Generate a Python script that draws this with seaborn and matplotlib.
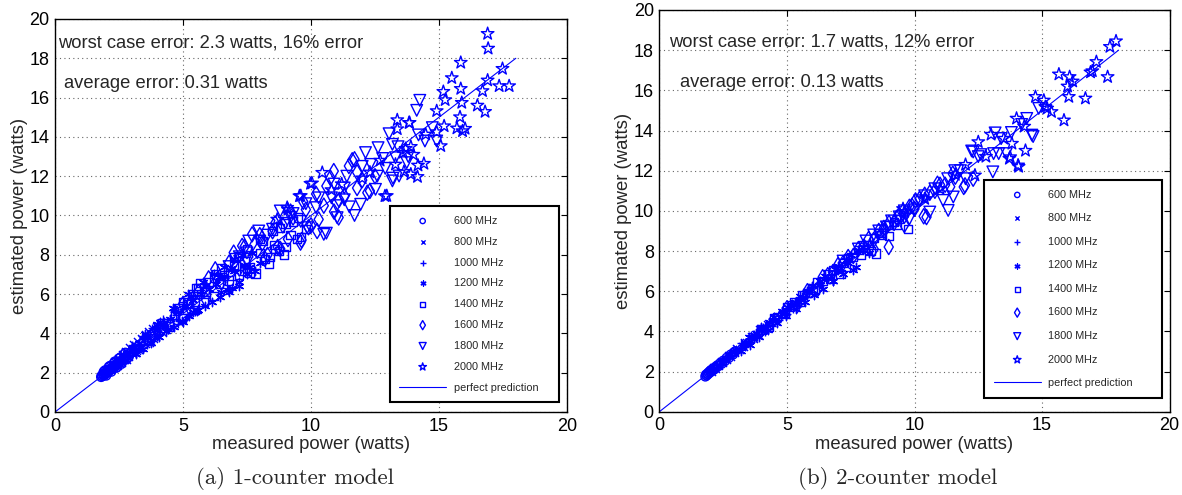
import matplotlib
matplotlib.use('Agg')
import matplotlib.pyplot as plt
import seaborn as sns

# frequency labels (one series per CPU frequency)
freqs = ['600 MHz', '800 MHz', '1000 MHz', '1200 MHz', '1400 MHz', '1600 MHz', '1800 MHz', '2000 MHz']

# ---- (a) 1-counter model: measured vs estimated power (watts) ----
a600_x = [1.80, 1.82, 1.85, 1.88, 1.90, 1.93, 1.95, 1.98, 2.00, 2.03, 2.05, 2.08, 2.10, 2.14, 2.18, 2.22, 2.26, 2.30, 2.35, 2.40, 2.46, 2.52, 2.58, 2.65, 2.72, 2.80, 2.88, 2.95,
          1.90, 2.10, 2.30, 2.50, 2.70, 2.00, 2.20, 2.40, 2.60, 2.80, 3.00, 3.10, 1.95, 2.15, 2.35, 2.55, 2.75]
a600_y = [1.78, 1.85, 1.82, 1.92, 1.86, 1.97, 1.90, 2.02, 1.96, 2.08, 2.00, 2.13, 2.06, 2.18, 2.15, 2.26, 2.22, 2.34, 2.31, 2.45, 2.42, 2.57, 2.52, 2.70, 2.66, 2.85, 2.80, 2.98,
          2.05, 2.30, 2.50, 2.72, 2.95, 1.85, 2.05, 2.25, 2.45, 2.68, 3.05, 3.20, 2.12, 2.35, 2.58, 2.78, 3.02]
a800_x = [2.00, 2.05, 2.12, 2.18, 2.25, 2.32, 2.38, 2.45, 2.52, 2.60, 2.68, 2.75, 2.83, 2.90, 2.98, 3.05, 3.12, 3.20, 3.28, 3.36, 3.45, 3.55, 3.65, 3.75, 3.85, 3.95, 4.05,
          2.30, 2.60, 2.90, 3.20, 3.50, 3.80, 4.10, 2.40, 2.80, 3.30, 3.70, 4.20,
          2.15, 2.45, 2.75, 3.05, 3.35, 3.65, 3.95, 2.55, 3.15, 3.85]
a800_y = [2.10, 1.98, 2.25, 2.12, 2.38, 2.22, 2.50, 2.36, 2.66, 2.50, 2.80, 2.66, 2.96, 2.82, 3.12, 2.95, 3.30, 3.10, 3.45, 3.25, 3.62, 3.45, 3.82, 3.62, 4.02, 3.80, 4.18,
          2.60, 2.95, 3.30, 3.60, 3.95, 4.30, 4.55, 2.30, 2.65, 3.15, 3.50, 4.00,
          2.35, 2.75, 3.10, 3.45, 3.75, 4.10, 4.40, 2.45, 3.00, 3.70]
a1000_x = [2.50, 2.60, 2.70, 2.80, 2.90, 3.00, 3.10, 3.20, 3.30, 3.40, 3.50, 3.60, 3.72, 3.85, 3.98, 4.10, 4.22, 4.35, 4.48, 4.60, 4.72, 4.85, 5.00, 5.15, 5.30, 5.45,
           3.00, 3.40, 3.80, 4.20, 4.60, 5.00, 5.40, 5.70, 3.60, 4.00, 4.40, 4.80, 5.20, 5.60,
           2.65, 3.05, 3.45, 3.85, 4.25, 4.65, 5.05, 5.45, 3.25, 4.05, 4.85]
a1000_y = [2.62, 2.55, 2.85, 2.72, 3.05, 2.88, 3.28, 3.05, 3.48, 3.25, 3.70, 3.45, 3.95, 3.70, 4.20, 3.95, 4.45, 4.18, 4.72, 4.40, 4.95, 4.62, 5.25, 4.85, 5.52, 5.10,
           3.40, 3.85, 4.30, 4.75, 5.20, 5.60, 5.95, 6.20, 3.40, 3.80, 4.15, 4.50, 4.90, 5.30,
           2.95, 3.35, 3.80, 4.25, 4.65, 5.10, 5.50, 5.80, 3.15, 3.90, 4.70]
a1200_x = [3.00, 3.15, 3.30, 3.45, 3.60, 3.75, 3.90, 4.05, 4.20, 4.35, 4.50, 4.65, 4.80, 4.95, 5.10, 5.25, 5.40, 5.55, 5.70, 5.85, 6.00, 6.15, 6.30, 6.45, 6.60, 6.74, 6.80, 7.00, 7.20, 7.40,
           4.00, 4.60, 5.20, 5.80, 6.20, 6.60, 7.00, 7.30, 7.60, 7.80, 6.90, 5.60, 5.00, 7.20, 7.50, 8.00,
           3.50, 4.10, 4.70, 5.30, 5.90, 6.40, 6.90, 7.70, 4.40, 5.40, 6.50]
a1200_y = [3.20, 2.95, 3.50, 3.20, 3.85, 3.50, 4.15, 3.80, 4.45, 4.10, 4.75, 4.35, 5.10, 4.65, 5.40, 4.90, 5.70, 5.15, 6.00, 5.40, 6.25, 5.60, 6.50, 5.85, 6.90, 6.20, 6.10, 7.20, 6.40, 7.50,
           4.50, 5.30, 6.00, 6.60, 7.00, 7.40, 7.80, 8.00, 7.40, 7.20, 6.30, 5.20, 4.60, 6.60, 7.00, 7.60,
           3.95, 4.60, 5.25, 5.85, 6.45, 6.85, 7.35, 8.10, 4.20, 5.10, 6.10]
a1400_x = [4.20, 4.45, 4.70, 4.95, 5.20, 5.45, 5.52, 5.68, 5.90, 6.20, 6.40, 6.60, 6.80, 7.00, 7.20, 7.40, 7.60, 7.83, 8.00, 8.20, 8.35, 8.55, 8.75, 8.94, 9.20, 9.45,
           5.00, 5.60, 6.00, 6.50, 7.00, 7.50, 8.00, 8.50, 9.00, 9.50, 9.80, 6.20, 6.90, 7.60, 8.40, 9.00, 9.60,
           4.80, 5.40, 6.30, 7.20, 8.10, 8.80, 9.30, 5.80, 7.40, 8.60]
a1400_y = [4.50, 4.35, 4.95, 4.75, 5.50, 5.20, 6.30, 6.58, 6.10, 6.83, 6.50, 6.95, 6.70, 7.40, 7.00, 7.70, 7.35, 7.04, 8.10, 7.80, 7.55, 8.50, 8.20, 8.02, 9.00, 8.80,
           5.60, 6.30, 6.60, 7.30, 7.90, 8.30, 8.80, 9.20, 9.60, 9.90, 9.30, 5.90, 6.50, 7.10, 7.90, 8.40, 8.90,
           5.30, 6.00, 7.00, 7.95, 8.70, 9.35, 9.70, 5.60, 7.20, 8.30]
a1600_x = [5.00, 5.30, 5.60, 5.90, 6.26, 6.50, 6.98, 7.20, 7.31, 7.50, 7.70, 7.90, 8.10, 8.30, 8.50, 8.70, 8.90, 9.10, 9.30, 9.59, 9.63, 9.80, 10.00, 10.24, 10.50, 10.76, 10.89, 11.08, 11.10, 11.48, 11.61, 11.70, 12.20, 12.00, 11.80, 12.30,
           6.00, 6.80, 7.40, 8.00, 8.60, 9.20, 9.70, 10.20, 10.60, 10.90, 10.30, 9.90, 8.80, 8.20, 11.30, 11.80, 12.50]
a1600_y = [5.50, 5.20, 6.10, 5.70, 7.26, 6.60, 8.11, 7.30, 8.45, 7.80, 9.04, 8.20, 8.60, 8.00, 9.20, 8.40, 9.50, 8.80, 9.90, 8.62, 8.75, 10.30, 9.50, 9.21, 10.50, 11.92, 12.26, 9.90, 10.80, 12.52, 12.81, 12.86, 11.16, 11.80, 11.40, 11.25,
           6.80, 7.60, 8.40, 9.00, 9.60, 10.20, 10.70, 11.10, 11.50, 10.20, 9.80, 9.40, 8.30, 7.80, 11.00, 12.20, 12.00]
a1800_x = [6.80, 7.20, 7.57, 7.96, 8.30, 8.80, 9.00, 9.30, 9.60, 9.85, 10.20, 10.50, 10.60, 10.80, 11.02, 11.30, 11.50, 11.70, 11.94, 12.13, 12.33, 12.52, 12.59, 12.62, 12.90, 13.05, 13.18, 13.18, 13.20, 13.30, 13.44, 13.74, 14.13, 14.25, 14.45, 14.74, 14.91,
           7.50, 8.00, 8.50, 9.20, 9.80, 10.30, 10.90, 11.40, 12.00, 11.00, 11.30, 12.80, 13.40, 13.80, 14.20]
a1800_y = [7.40, 7.90, 8.70, 9.21, 9.00, 10.23, 9.60, 10.10, 9.70, 9.38, 10.40, 9.04, 9.10, 10.90, 9.89, 11.40, 10.44, 10.00, 10.57, 13.20, 12.60, 11.33, 12.00, 13.45, 12.40, 14.16, 13.62, 11.76, 11.90, 12.94, 12.01, 12.69, 15.35, 15.86, 13.79, 14.47, 13.79,
           8.10, 8.70, 9.30, 9.90, 10.60, 10.90, 11.60, 12.00, 12.50, 10.50, 10.80, 12.90, 13.50, 13.00, 14.10]
a2000_x = [8.68, 9.07, 9.10, 9.55, 9.60, 9.98, 10.04, 10.44, 10.80, 11.20, 12.00, 12.30, 12.70, 12.89, 12.96, 13.30, 13.37, 13.37, 13.60, 13.63, 13.70, 13.83, 13.85, 13.90, 13.90, 14.00, 14.16, 14.18, 14.41, 14.48, 14.91, 14.91, 15.07, 15.17, 15.20, 15.24, 15.50, 15.70, 15.82, 15.85, 15.85, 15.89, 15.92, 16.02, 16.50, 16.70, 16.80, 16.90, 16.90, 16.92, 17.35, 17.48, 17.74]
a2000_y = [9.80, 10.40, 10.30, 10.99, 11.00, 11.62, 11.64, 12.18, 11.30, 11.60, 11.90, 12.20, 12.80, 10.99, 11.00, 12.60, 14.86, 14.40, 13.20, 12.23, 13.40, 14.72, 14.72, 12.10, 13.50, 13.10, 11.97, 12.55, 12.64, 14.13, 15.32, 14.25, 13.54, 16.30, 14.55, 15.88, 17.00, 14.44, 15.01, 17.78, 16.45, 15.74, 14.30, 14.42, 15.60, 16.34, 15.28, 19.25, 16.88, 18.50, 16.59, 17.47, 16.59]

# ---- (b) 2-counter model ----
b600_x = [1.80, 1.82, 1.85, 1.88, 1.90, 1.93, 1.95, 1.98, 2.00, 2.03, 2.06, 2.10, 2.14, 2.18, 2.22, 2.27, 2.32, 2.38, 2.44, 2.50, 2.57, 2.64, 2.72, 2.80, 2.88, 2.96]
b600_y = [1.75, 1.84, 1.80, 1.90, 1.86, 1.96, 1.92, 2.02, 1.97, 2.08, 2.02, 2.14, 2.09, 2.22, 2.18, 2.31, 2.27, 2.42, 2.38, 2.54, 2.52, 2.69, 2.67, 2.85, 2.84, 3.00]
b800_x = [2.00, 2.07, 2.14, 2.21, 2.28, 2.35, 2.42, 2.50, 2.58, 2.66, 2.74, 2.82, 2.90, 2.98, 3.06, 3.14, 3.22, 3.30, 3.40, 3.50, 3.60, 3.70, 3.80, 3.90, 4.00, 4.12,
          2.10, 2.40, 2.70, 3.00, 3.30, 3.60, 3.90, 4.20]
b800_y = [2.06, 1.98, 2.20, 2.12, 2.34, 2.27, 2.48, 2.42, 2.64, 2.58, 2.80, 2.74, 2.96, 2.90, 3.12, 3.06, 3.28, 3.22, 3.46, 3.40, 3.66, 3.60, 3.86, 3.80, 4.06, 4.05,
          2.22, 2.52, 2.84, 3.16, 3.46, 3.78, 4.10, 4.38]
b1000_x = [2.50, 2.62, 2.74, 2.86, 2.98, 3.10, 3.22, 3.34, 3.46, 3.58, 3.70, 3.84, 3.98, 4.12, 4.26, 4.40, 4.54, 4.68, 4.82, 4.96, 5.10, 5.25, 5.40, 5.55,
           2.80, 3.20, 3.60, 4.00, 4.40, 4.80, 5.20, 5.60, 5.90,
           3.00, 3.40, 3.80, 4.20, 4.60, 5.00, 5.40, 5.80]
b1000_y = [2.58, 2.52, 2.82, 2.76, 3.06, 2.98, 3.30, 3.22, 3.54, 3.46, 3.78, 3.72, 4.06, 3.98, 4.34, 4.28, 4.62, 4.56, 4.90, 4.82, 5.20, 5.12, 5.48, 5.42,
           2.95, 3.40, 3.80, 4.20, 4.60, 5.00, 5.40, 5.75, 6.05,
           2.90, 3.28, 3.68, 4.08, 4.48, 4.88, 5.30, 5.70]
b1200_x = [3.00, 3.18, 3.36, 3.54, 3.72, 3.90, 4.08, 4.26, 4.44, 4.62, 4.80, 4.98, 5.16, 5.34, 5.52, 5.70, 5.88, 6.06, 6.24, 6.42, 6.60, 6.80, 7.00, 7.20, 7.40, 7.60, 7.69,
           3.50, 4.00, 4.50, 5.00, 5.50, 6.00, 6.50, 7.00, 7.50, 8.00, 8.20, 6.80,
           3.80, 4.30, 4.80, 5.30, 5.80, 6.30, 6.90, 7.30, 7.80]
b1200_y = [3.08, 3.00, 3.44, 3.32, 3.80, 3.70, 4.16, 4.05, 4.52, 4.42, 4.88, 4.76, 5.25, 5.10, 5.60, 5.45, 5.96, 5.80, 6.32, 6.12, 6.66, 6.50, 7.05, 6.85, 7.40, 7.05, 7.20,
           3.70, 4.20, 4.70, 5.20, 5.75, 6.25, 6.75, 7.25, 7.80, 8.20, 7.90, 6.50,
           3.90, 4.48, 5.00, 5.48, 6.00, 6.50, 7.12, 7.55, 8.05]
b1400_x = [4.00, 4.30, 4.60, 4.90, 5.20, 5.50, 5.80, 6.10, 6.40, 6.70, 7.00, 7.30, 7.60, 7.90, 8.20, 8.49, 8.70, 9.00, 9.30, 9.74,
           5.00, 5.60, 6.20, 6.80, 7.40, 8.00, 8.60, 9.00, 9.40, 8.30, 7.10,
           4.50, 5.30, 6.00, 6.60, 7.20, 7.80, 8.40, 9.20]
b1400_y = [4.10, 4.25, 4.72, 4.85, 5.30, 5.45, 5.92, 6.05, 6.50, 6.62, 7.10, 7.20, 7.70, 7.80, 8.30, 7.87, 8.80, 8.75, 9.30, 9.11,
           5.20, 5.80, 6.45, 7.05, 7.65, 8.30, 8.90, 9.30, 9.60, 8.00, 6.85,
           4.65, 5.45, 6.15, 6.85, 7.40, 8.05, 8.65, 9.45]
b1600_x = [5.00, 5.40, 5.80, 6.20, 6.60, 6.80, 7.20, 7.60, 8.00, 8.40, 8.80, 8.99, 9.20, 9.60, 9.80, 10.00, 10.04, 10.36, 10.47, 10.80, 11.20, 11.60, 11.93, 11.98, 12.30,
           6.40, 7.00, 7.40, 7.80, 8.20, 8.60, 9.00, 9.40, 10.20, 10.60, 11.00, 11.40, 9.60, 8.40,
           8.80, 9.30, 9.90, 10.40, 10.90, 11.50]
b1600_y = [5.15, 5.30, 6.00, 6.10, 6.80, 6.95, 7.40, 7.75, 8.20, 8.55, 9.00, 8.20, 9.40, 9.75, 10.20, 10.10, 10.52, 9.73, 9.69, 11.00, 11.30, 11.70, 11.19, 11.27, 11.60,
           6.70, 7.30, 7.70, 8.10, 8.60, 9.00, 9.40, 9.80, 10.60, 10.90, 11.30, 11.20, 9.30, 8.10,
           9.15, 9.65, 10.25, 10.80, 11.35, 11.85]
b1800_x = [7.20, 7.80, 8.40, 8.90, 9.40, 9.80, 10.00, 10.40, 10.60, 11.12, 11.32, 11.52, 11.58, 12.00, 12.24, 12.30, 12.50, 13.07, 13.10, 13.16, 13.30, 13.60, 14.40, 14.60, 14.65, 14.87,
           8.10, 8.60, 9.10, 9.60, 10.20, 10.80, 11.30, 11.80, 12.60, 13.40, 13.80, 14.20]
b1800_y = [7.50, 8.10, 8.80, 9.20, 9.70, 9.60, 10.05, 10.75, 9.94, 10.52, 10.02, 10.69, 12.00, 11.60, 12.98, 12.93, 12.70, 11.94, 12.85, 13.88, 12.85, 12.85, 14.60, 13.77, 13.70, 15.10,
           8.50, 9.00, 9.50, 10.00, 10.50, 11.10, 11.60, 12.00, 12.80, 13.60, 13.90, 14.30]
b2000_x = [9.55, 9.60, 10.40, 11.00, 11.60, 12.00, 12.37, 12.50, 12.80, 13.00, 13.50, 13.72, 13.75, 13.82, 14.00, 14.06, 14.08, 14.30, 14.35, 14.74, 15.07, 15.13, 15.20, 15.37, 15.66, 15.86, 16.00, 16.05, 16.08, 16.20, 16.70, 16.90, 16.97, 17.13, 17.57, 17.66, 17.90]
b2000_y = [10.10, 9.95, 10.60, 11.10, 11.80, 12.30, 11.77, 13.43, 12.70, 13.80, 13.60, 12.60, 12.68, 13.35, 14.60, 12.27, 12.20, 14.20, 13.00, 15.68, 15.50, 15.18, 15.10, 14.93, 16.80, 14.51, 16.20, 15.68, 16.67, 16.45, 15.60, 16.90, 16.96, 17.42, 16.67, 18.17, 18.45]

panel_a = [(a600_x, a600_y), (a800_x, a800_y), (a1000_x, a1000_y), (a1200_x, a1200_y),
           (a1400_x, a1400_y), (a1600_x, a1600_y), (a1800_x, a1800_y), (a2000_x, a2000_y)]
panel_b = [(b600_x, b600_y), (b800_x, b800_y), (b1000_x, b1000_y), (b1200_x, b1200_y),
           (b1400_x, b1400_y), (b1600_x, b1600_y), (b1800_x, b1800_y), (b2000_x, b2000_y)]

perfect = [0, 18]

# marker style per frequency: (marker, size, hollow?)
styles = [('o', 40, True), ('x', 26, False), ('+', 40, False), ((6, 2, 0), 36, False),
          ('s', 36, True), ('d', 60, True), ('v', 70, True), ('*', 90, True)]

sns.set_style('white')
plt.rcParams['font.family'] = ['Liberation Sans', 'DejaVu Sans']

blue = (0, 0, 1)
fig = plt.figure(figsize=(11.82, 4.95), dpi=100)
ax1 = fig.add_axes([0.04653, 0.16768, 0.43316, 0.79394])
ax2 = fig.add_axes([0.55787, 0.16828, 0.43164, 0.81152])


def draw(ax, panel, worst, avg, wpos, apos, leg_box, spacing):
    for (xs, ys), lab, (mk, sz, hollow) in zip(panel, freqs, styles):
        if hollow:
            sns.scatterplot(x=xs, y=ys, ax=ax, marker=mk, s=sz, facecolors='none',
                            edgecolors=blue, linewidths=1.0, label=lab)
        else:
            sns.scatterplot(x=xs, y=ys, ax=ax, marker=mk, s=sz, color=blue,
                            linewidths=1.0, label=lab)
    sns.lineplot(x=perfect, y=perfect, ax=ax, color=blue, linewidth=0.8,
                 label='perfect prediction')
    ax.set_xlim(0, 20)
    ax.set_ylim(0, 20)
    ax.set_xticks([0, 5, 10, 15, 20])
    ax.set_yticks(range(0, 21, 2))
    ax.grid(True, linestyle=(0, (1, 3)), color='0.4', linewidth=0.8)
    ax.tick_params(direction='in', length=4, top=True, right=True, labelsize=13,
                   colors='black', pad=4)
    for sp in ax.spines.values():
        sp.set_color('black')
        sp.set_linewidth(1.0)
    ax.set_xlabel('measured power (watts)', fontsize=13.3, labelpad=1)
    ax.set_ylabel('estimated power (watts)', fontsize=13.3, labelpad=1)
    ax.text(wpos[0], wpos[1], worst, fontsize=13.2, va='center')
    ax.text(apos[0], apos[1], avg, fontsize=13.2, va='center')
    h, l = ax.get_legend_handles_labels()
    leg = ax.legend(h, l, loc='lower left', bbox_to_anchor=leg_box, mode='expand',
                    fontsize=7.8, markerscale=0.6, scatterpoints=1, handlelength=4.3,
                    handletextpad=0.7, labelspacing=spacing, borderpad=0.9,
                    fancybox=False, framealpha=1, edgecolor='black')
    leg.get_frame().set_linewidth(1.5)


draw(ax1, panel_a, 'worst case error: 2.3 watts, 16% error', 'average error: 0.31 watts',
     (0.1, 18.8), (0.37, 16.7), (0.643, 0.011, 0.352, 0.511), 1.0)
draw(ax2, panel_b, 'worst case error: 1.7 watts, 12% error', 'average error: 0.13 watts',
     (0.36, 18.43), (0.8, 16.4), (0.626, 0.021, 0.37, 0.553), 1.25)

fig.text(295 / 1182, 1 - 478 / 495, '(a) 1-counter model', family='cmr10', fontsize=16.5,
         ha='center', va='center')
fig.text(898 / 1182, 1 - 479 / 495, '(b) 2-counter model', family='cmr10', fontsize=16.5,
         ha='center', va='center')

fig.savefig('out.png', dpi=100)
